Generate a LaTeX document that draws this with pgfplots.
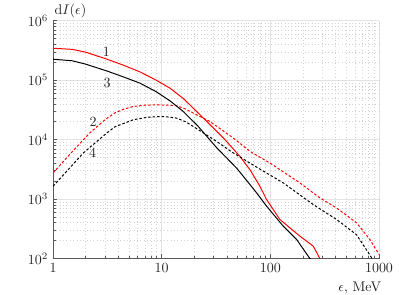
\documentclass[border=0pt]{standalone}
\usepackage{pgfplots}
\pgfplotsset{compat=1.18}
\begin{document}
\begin{tikzpicture}
\begin{loglogaxis}[
  scale only axis, width=233pt, height=170pt,
  xmin=1, xmax=1000, ymin=1e2, ymax=1e6,
  axis lines=left, axis line style={-, gray!70!black, line width=0.6pt},
  xtick={1,10,100,1000}, xticklabels={1,10,100,1000},
  ytick={1e2,1e3,1e4,1e5,1e6},
  tick align=inside, tick style={gray!70!black, line width=0.4pt},
  major tick length=3pt, minor tick length=2pt,
  grid=both,
  major grid style={gray!22, line width=0.6pt},
  minor grid style={gray!35, dotted, line width=0.4pt},
  ticklabel style={black!85},
  xlabel={$\epsilon$, MeV},
  ylabel={$\mathrm{d}I(\epsilon)$},
  every axis x label/.style={at={(rel axis cs:1,0)}, anchor=north east, yshift=-13pt, xshift=5pt, black!85},
  every axis y label/.style={at={(rel axis cs:0,1)}, anchor=south west, inner sep=1pt, yshift=1pt, black!85},
  dashpat/.style={dash pattern=on 1.8pt off 1.4pt},
]
\addplot[red, line width=0.7pt, line join=round] coordinates {
(1,3.44e5) (1.5,3.3e5) (2.01,2.95e5) (3.16,2.24e5) (4.47,1.78e5) (6.31,1.377e5) (8.9,1.0e5) (11.91,7.35e4) (15.85,4.9e4) (21.73,2.79e4) (28.2,1.75e4) (38.2,1.0e4) (52.5,5220) (64.9,3126) (80.2,1641) (92.5,977) (122.5,453) (187.1,238) (248.3,161.4) (285.8,100) (300,85)
};
\addplot[dashpat, red, line width=0.7pt, line join=round] coordinates {
(1,2754) (1.56,6761) (2.188,13030) (3.006,21580) (3.715,28180) (4.47,32400) (5.445,36060) (7.08,38000) (8.995,38460) (11.2,38000) (13.74,37070) (16.6,32700) (19.54,27930) (27.8,20180) (45.6,10640) (64.9,6339) (99.1,4046) (187.1,1871) (285.8,1047) (407.4,708) (622.3,398) (824.1,209) (1000,117.5)
};
\addplot[black, line width=0.7pt, line join=round] coordinates {
(1,2.25e5) (1.5,2.12e5) (1.968,1.875e5) (3.16,1.42e5) (4.47,1.13e5) (6.31,8.91e4) (8.9,6.4e4) (11.91,4.5e4) (15.81,2.97e4) (21.73,1.663e4) (32.06,7310) (48.98,3310) (56.4,2415) (74.8,1270) (92.5,757) (131.5,350) (174.6,209) (231.2,100) (250,85)
};
\addplot[dashpat, black, line width=0.7pt, line join=round] coordinates {
(1,1641) (1.901,5957) (3.119,12880) (3.715,16440) (5.483,21580) (7.4,23800) (9.638,24490) (11.5,24000) (13.74,23010) (16.6,20000) (19.54,16630) (32.06,9333) (44.36,6166) (74.8,3443) (131.5,1871) (248.3,809) (407.4,453) (622.3,251) (851,104.7) (900,85)
};
\node[black!85] at (axis cs:3.09,3.0e5) {1};
\node[black!85] at (axis cs:3.14,9.1e4) {3};
\node[black!85] at (axis cs:2.34,2.0e4) {2};
\node[black!85] at (axis cs:2.32,5.96e3) {4};
\end{loglogaxis}
\pgfresetboundingbox
\path[use as bounding box] ([xshift=-37.9pt,yshift=-25.7pt]current axis.south west) rectangle ([xshift=14.3pt,yshift=14.8pt]current axis.north east);
\end{tikzpicture}
\end{document}
